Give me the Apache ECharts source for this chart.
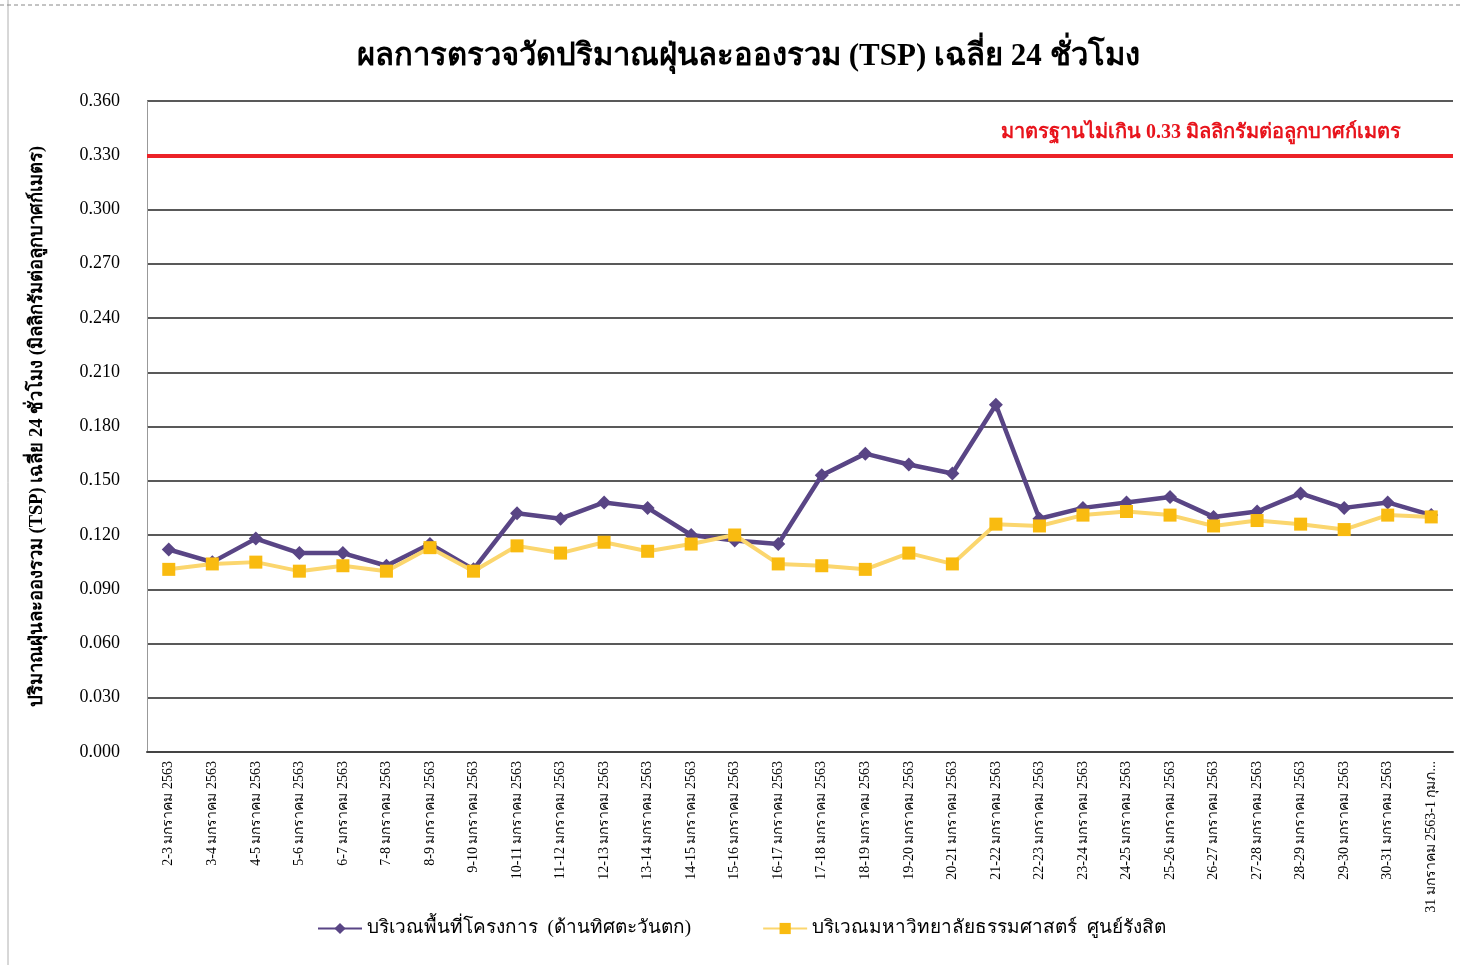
<!DOCTYPE html>
<html>
<head>
<meta charset="utf-8">
<script src="https://cdn.jsdelivr.net/npm/echarts@6/dist/echarts.min.js"></script>
<style>
html,body{margin:0;padding:0;background:#fff;}
#chart{width:1460px;height:965px;}
</style>
</head>
<body>
<div id="chart"></div>
<script>
var categories = [
  "2-3 มกราคม 2563","3-4 มกราคม 2563","4-5 มกราคม 2563","5-6 มกราคม 2563","6-7 มกราคม 2563",
  "7-8 มกราคม 2563","8-9 มกราคม 2563","9-10 มกราคม 2563","10-11 มกราคม 2563","11-12 มกราคม 2563",
  "12-13 มกราคม 2563","13-14 มกราคม 2563","14-15 มกราคม 2563","15-16 มกราคม 2563","16-17 มกราคม 2563",
  "17-18 มกราคม 2563","18-19 มกราคม 2563","19-20 มกราคม 2563","20-21 มกราคม 2563","21-22 มกราคม 2563",
  "22-23 มกราคม 2563","23-24 มกราคม 2563","24-25 มกราคม 2563","25-26 มกราคม 2563","26-27 มกราคม 2563",
  "27-28 มกราคม 2563","28-29 มกราคม 2563","29-30 มกราคม 2563","30-31 มกราคม 2563","31 มกราคม 2563-1 กุมภาพันธ์ 2563"
];
var projectArea = [
  0.112,0.105,0.118,0.110,0.110,0.103,0.115,0.101,0.132,0.129,
  0.138,0.135,0.120,0.117,0.115,0.153,0.165,0.159,0.154,0.192,
  0.129,0.135,0.138,0.141,0.130,0.133,0.143,0.135,0.138,0.131
];
var thammasat = [
  0.101,0.104,0.105,0.100,0.103,0.100,0.113,0.100,0.114,0.110,
  0.116,0.111,0.115,0.120,0.104,0.103,0.101,0.110,0.104,0.126,
  0.125,0.131,0.133,0.131,0.125,0.128,0.126,0.123,0.131,0.130
];
var standardLimit = 0.33;
var yTicks = { min: 0, max: 0.36, interval: 0.03 };
var seriesNames = ["บริเวณพื้นที่โครงการ  (ด้านทิศตะวันตก)", "บริเวณมหาวิทยาลัยธรรมศาสตร์  ศูนย์รังสิต"];
var titleText = "ผลการตรวจวัดปริมาณฝุ่นละอองรวม (TSP) เฉลี่ย 24 ชั่วโมง";
var yAxisName = "ปริมาณฝุ่นละอองรวม (TSP) เฉลี่ย 24 ชั่วโมง (มิลลิกรัมต่อลูกบาศก์เมตร)";
var limitLabel = "มาตรฐานไม่เกิน 0.33 มิลลิกรัมต่อลูกบาศก์เมตร";

var serif = '"Liberation Serif","DejaVu Serif","Noto Serif",serif';
var chart = echarts.init(document.getElementById('chart'));
chart.setOption({
  backgroundColor: '#fff',
  animation: false,
  title: {
    text: titleText, left: 352, top: 36,
    textStyle: { fontFamily: serif, fontSize: 31, fontWeight: 'bold', color: '#000' }
  },
  graphic: [
    { type: 'line', shape: { x1: 8, y1: 0, x2: 8, y2: 965 }, style: { stroke: '#b0b0b0', lineWidth: 1 } },
    { type: 'line', shape: { x1: 0, y1: 5, x2: 1460, y2: 5 }, style: { stroke: '#888', lineWidth: 1, lineDash: [4, 3] } }
  ],
  legend: {
    bottom: 22, left: 312, itemGap: 71, itemWidth: 44, itemHeight: 14,
    textStyle: { fontFamily: serif, fontSize: 19, color: '#000' },
    data: seriesNames
  },
  grid: { left: 147, right: 7, top: 101, bottom: 213, containLabel: false, outerBoundsMode: 'none' },
  xAxis: {
    type: 'category', data: categories, boundaryGap: true,
    axisLine: { lineStyle: { color: '#444', width: 2 } },
    axisTick: { show: false },
    axisLabel: {
      rotate: 90, interval: 0, margin: 9, color: '#000',
      fontFamily: serif, fontSize: 14,
      width: 204, overflow: 'truncate'
    }
  },
  yAxis: {
    type: 'value', min: yTicks.min, max: yTicks.max, interval: yTicks.interval,
    name: yAxisName, nameLocation: 'middle', nameGap: 100, nameRotate: 90,
    nameTextStyle: { fontFamily: serif, fontSize: 18.5, fontWeight: 'bold', color: '#000' },
    axisLine: { show: true, lineStyle: { color: '#999', width: 1 } },
    axisTick: { show: false },
    axisLabel: {
      margin: 27, color: '#000', fontFamily: serif, fontSize: 18,
      formatter: function (v) { return v.toFixed(3); }
    },
    splitLine: { lineStyle: { color: '#222', width: 1.5 } }
  },
  series: [
    {
      name: seriesNames[0], type: 'line', data: projectArea,
      symbol: 'diamond', symbolSize: 14,
      lineStyle: { color: '#594585', width: 4.5 },
      itemStyle: { color: '#594585' },
      z: 3,
      markLine: {
        silent: true, symbol: 'none',
        lineStyle: { color: '#ec2228', width: 4, type: 'solid' },
        label: {
          show: true, position: 'insideEndTop', distance: [52, 12],
          formatter: limitLabel, color: '#e8141c',
          fontFamily: serif, fontSize: 20, fontWeight: 'bold'
        },
        data: [{ yAxis: standardLimit }]
      }
    },
    {
      name: seriesNames[1], type: 'line', data: thammasat,
      symbol: 'rect', symbolSize: 13,
      lineStyle: { color: '#fbd66e', width: 4 },
      itemStyle: { color: '#f9bb10' },
      z: 4
    }
  ]
});
</script>
</body>
</html>
